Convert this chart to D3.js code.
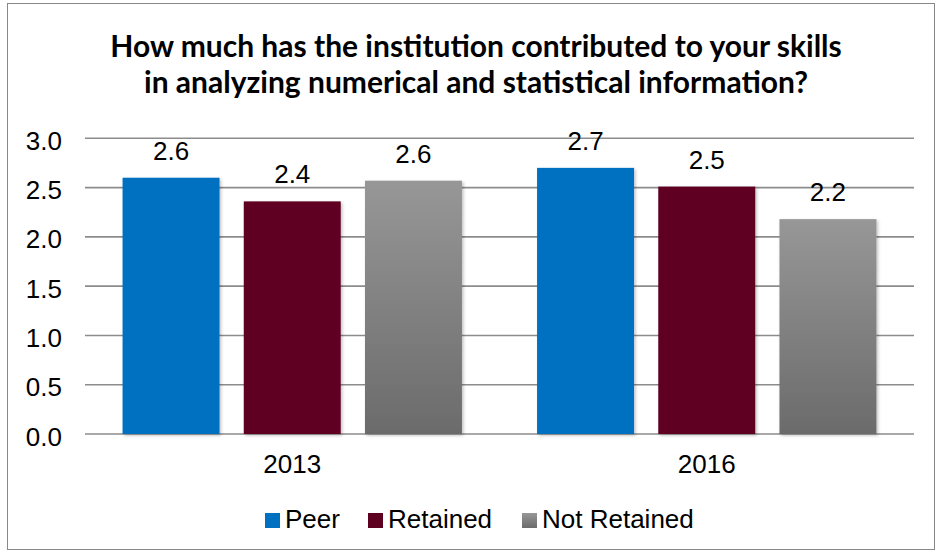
<!DOCTYPE html>
<html><head><meta charset="utf-8">
<script src="https://cdn.jsdelivr.net/npm/d3@7"></script>
<style>body{margin:0;background:#fff}</style>
</head><body>
<svg id="c" width="943" height="559"></svg>
<script>
const categories = ["2013", "2016"];
const seriesNames = ["Peer", "Retained", "Not Retained"];
const peer = [2.60, 2.70];
const retained = [2.36, 2.51];
const notRetained = [2.57, 2.18];
const yTicks = [0, 0.5, 1, 1.5, 2, 2.5, 3];
const titleLines = ["How much has the institution contributed to your skills", "in analyzing numerical and statistical information?"];

(function(){
const seriesValues = [peer, retained, notRetained];
const colors = ["#0070C0", "#5E0020", "url(#gradGray)"];
const legendColors = ["#0070C0", "#5E0020", "url(#gradGray)"];
const FONT = "Liberation Sans, Arial, sans-serif";
const FS = 26;

const svg = d3.select("#c");
const defs = svg.append("defs");
const g1 = defs.append("linearGradient").attr("id","gradGray").attr("x1",0).attr("y1",0).attr("x2",0).attr("y2",1);
g1.append("stop").attr("offset","0%").attr("stop-color","#979797");
g1.append("stop").attr("offset","100%").attr("stop-color","#6b6b6b");
const f = defs.append("filter").attr("id","sh").attr("x","-10%").attr("y","-10%").attr("width","130%").attr("height","130%");
f.append("feDropShadow").attr("dx",1.5).attr("dy",1.5).attr("stdDeviation",1.5).attr("flood-color","#000").attr("flood-opacity",0.25);

svg.append("rect").attr("x",7.5).attr("y",3.5).attr("width",927).attr("height",546)
  .attr("fill","#fff").attr("stroke","#888").attr("stroke-width",1);

const pl = 85, pr = 914, pt = 138.3, pb = 434;
const x0 = d3.scaleBand().domain(categories).range([pl, pr]).paddingInner(0).paddingOuter(0);
const x1 = d3.scaleBand().domain(seriesNames).range([0, x0.bandwidth()]).paddingInner(0.2).paddingOuter(0.31);
const y = d3.scaleLinear().domain([0, 3]).range([pb, pt]);

svg.append("g").selectAll("line").data(yTicks).join("line")
  .attr("x1", pl).attr("x2", pr)
  .attr("y1", d => y(d)).attr("y2", d => y(d))
  .attr("stroke", "#8c8c8c").attr("stroke-width", 1.6);

const yAxis = d3.axisLeft(y).tickValues(yTicks).tickFormat(d3.format(".1f")).tickSize(0).tickPadding(0);
const ya = svg.append("g").attr("transform", `translate(62,2)`).call(yAxis);
ya.select(".domain").remove();
ya.selectAll("text").attr("font-family",FONT).attr("font-size",FS).attr("fill","#000").attr("dy","0.35em");

const groups = svg.append("g").selectAll("g").data(categories).join("g")
  .attr("transform", d => `translate(${x0(d)},0)`);
groups.each(function(cat, ci) {
  const g = d3.select(this);
  seriesNames.forEach((s, si) => {
    const v = seriesValues[si][ci];
    g.append("rect").attr("x", x1(s)).attr("width", x1.bandwidth())
      .attr("y", y(v)).attr("height", y(0) - y(v))
      .attr("fill", colors[si]).attr("filter","url(#sh)");
    g.append("text").attr("x", x1(s) + x1.bandwidth()/2).attr("y", y(v) - 18)
      .attr("text-anchor","middle").attr("font-family",FONT)
      .attr("font-size",FS).attr("fill","#000").text(d3.format(".1f")(v));
  });
});

const xAxis = d3.axisBottom(x0).tickSize(0).tickPadding(0);
const xa = svg.append("g").attr("transform", `translate(0,${pb + 30})`).call(xAxis);
xa.select(".domain").remove();
xa.selectAll("text").attr("font-family",FONT).attr("font-size",FS).attr("fill","#000").attr("dy","0.35em");

svg.append("g").selectAll("text").data(titleLines).join("text")
  .attr("x", 476).attr("y", (d,i) => 57 + i*36)
  .attr("text-anchor","middle").attr("font-family","Lato, sans-serif").attr("font-weight","bold")
  .attr("font-size",30).attr("fill","#000").text(d => d);

const legX = [265, 368, 522];
const leg = svg.append("g").selectAll("g").data(seriesNames).join("g")
  .attr("transform", (d,i) => `translate(${legX[i]},513)`);
leg.append("rect").attr("width",15).attr("height",15).attr("fill",(d,i)=>legendColors[i]);
leg.append("text").attr("x",20).attr("y",15)
  .attr("font-family",FONT).attr("font-size",FS).attr("fill","#000").text(d=>d);
})();
</script>
</body></html>
